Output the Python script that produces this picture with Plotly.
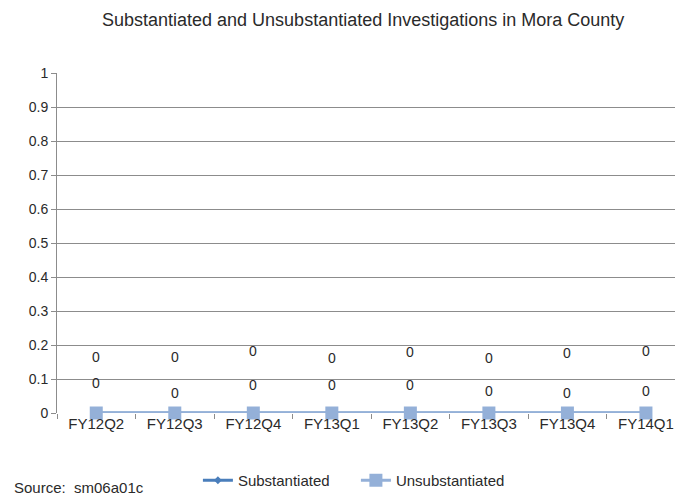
import plotly.graph_objects as go

categories = ["FY12Q2", "FY12Q3", "FY12Q4", "FY13Q1", "FY13Q2", "FY13Q3", "FY13Q4", "FY14Q1"]
substantiated = [0, 0, 0, 0, 0, 0, 0, 0]
unsubstantiated = [0, 0, 0, 0, 0, 0, 0, 0]
y_ticks = [0, 0.1, 0.2, 0.3, 0.4, 0.5, 0.6, 0.7, 0.8, 0.9, 1]

# pixel offsets of the (manually moved) data labels
sub_label_shift = [30, 20, 28, 28, 28, 22, 20, 22]
unsub_label_shift = [56, 56, 62, 55, 61, 55, 60, 62]

FONT = "Liberation Sans"
TXT = "#2a2a2a"
DARK = "#4A7EBB"
LIGHT = "#94B0D8"

fig = go.Figure()
fig.add_trace(go.Scatter(
    x=categories, y=substantiated, name="Substantiated", mode="lines+markers",
    line=dict(color=DARK, width=3), marker=dict(symbol="diamond", size=6, color=DARK),
    cliponaxis=False,
))
fig.add_trace(go.Scatter(
    x=categories, y=unsubstantiated, name="Unsubstantiated", mode="lines+markers",
    line=dict(color=LIGHT, width=3), marker=dict(symbol="square", size=13, color=LIGHT),
    cliponaxis=False,
))

annotations = []
for cat, v, s in zip(categories, substantiated, sub_label_shift):
    annotations.append(dict(x=cat, y=v, xref="x", yref="y", text=str(v), showarrow=False,
                            yshift=s, font=dict(family=FONT, size=14, color=TXT)))
for cat, v, s in zip(categories, unsubstantiated, unsub_label_shift):
    annotations.append(dict(x=cat, y=v, xref="x", yref="y", text=str(v), showarrow=False,
                            yshift=s, font=dict(family=FONT, size=14, color=TXT)))
annotations.append(dict(x=-0.073, y=-0.219, xref="paper", yref="paper", text="Source:  sm06a01c",
                        showarrow=False, xanchor="left", yanchor="middle",
                        font=dict(family=FONT, size=15, color=TXT)))

fig.update_layout(
    width=675, height=497,
    margin=dict(l=57, r=0, t=73, b=84),
    paper_bgcolor="white", plot_bgcolor="white",
    title=dict(text="Substantiated and Unsubstantiated Investigations in Mora County",
               x=0.538, xanchor="center", y=0.96, yanchor="middle",
               font=dict(family=FONT, size=18, color=TXT)),
    font=dict(family=FONT, size=14, color=TXT),
    showlegend=True,
    legend=dict(orientation="h", x=0.228, xanchor="left", y=-0.2, yanchor="middle",
                entrywidth=113, entrywidthmode="pixels",
                font=dict(family=FONT, size=15, color=TXT)),
    xaxis=dict(type="category", range=[-0.5, 7.37], showgrid=False,
               ticks="outside", tickson="boundaries", ticklen=5, tickcolor="#8c8c8c",
               showline=False, tickfont=dict(family=FONT, size=15)),
    yaxis=dict(range=[0, 1], tickvals=y_ticks, ticktext=[f"{t:g}" for t in y_ticks],
               showgrid=True, gridcolor="#8c8c8c", gridwidth=1,
               showline=True, linecolor="#8c8c8c", linewidth=1,
               ticks="outside", ticklen=5, tickcolor="#8c8c8c",
               zeroline=False, tickfont=dict(family=FONT, size=14)),
    annotations=annotations,
)

fig.write_html("out.html", config={"displayModeBar": False},
               post_script="document.body.style.margin='0';")
